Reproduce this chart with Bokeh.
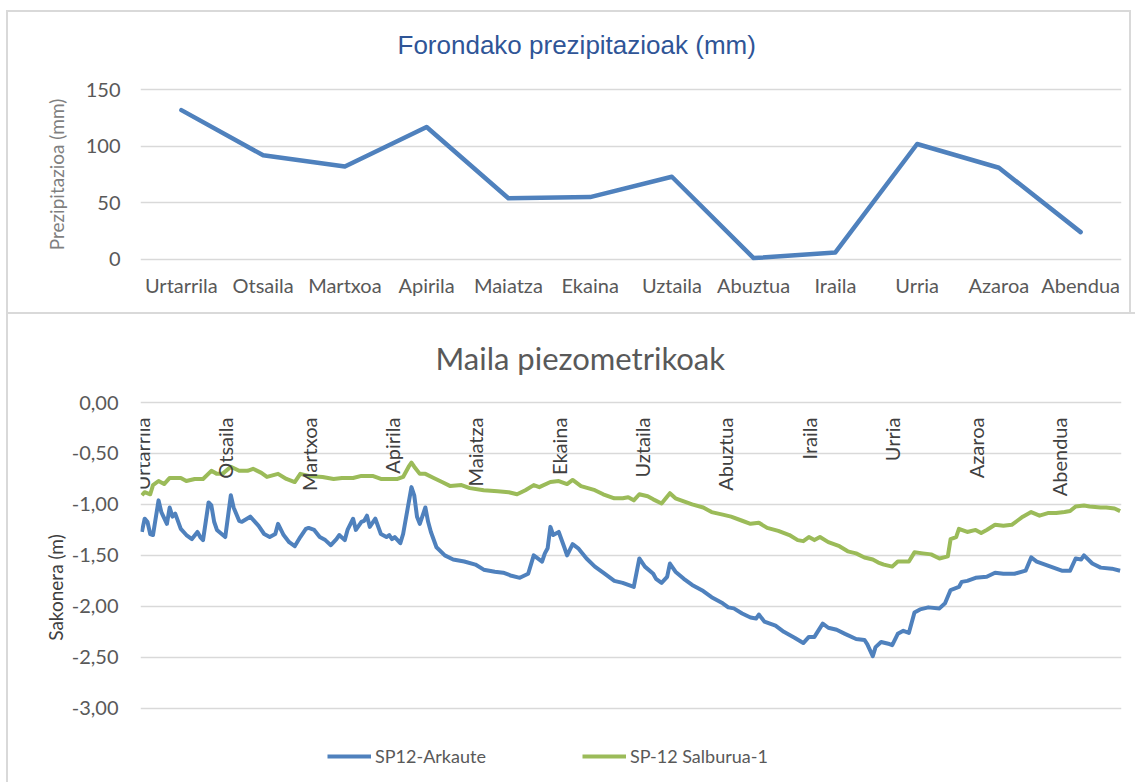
from math import pi
from bokeh.plotting import figure
from bokeh.layouts import column
from bokeh.models import (Range1d, FactorRange, FixedTicker, Title, Legend, LegendItem,
                          CustomJSTickFormatter)
from bokeh.core.properties import value
from bokeh.embed import file_html
from bokeh.resources import INLINE

# ---------------- data ----------------
months = ["Urtarrila", "Otsaila", "Martxoa", "Apirila", "Maiatza", "Ekaina",
          "Uztaila", "Abuztua", "Iraila", "Urria", "Azaroa", "Abendua"]
precip_mm = [132, 92, 82, 117, 54, 55, 73, 1, 6, 102, 81, 24]

precip_ticks = [0, 50, 100, 150]
depth_ticks = [0.0, -0.5, -1.0, -1.5, -2.0, -2.5, -3.0]
month_label_day = [0, 30, 60, 90, 120, 150, 180, 210, 240, 270, 300, 330]

arkaute_day = [0, 1, 2, 3, 4, 6, 7, 9, 10, 11, 12, 14, 16, 18, 20, 21, 22, 24, 25, 26,
               27, 30, 32, 33, 35, 36, 39, 42, 44, 46, 48, 49, 51, 53, 55, 57, 59, 60,
               62, 64, 66, 68, 70, 71, 73, 74, 76, 77, 79, 80, 81, 82, 84, 86, 88, 89,
               90, 91, 93, 94, 97, 98, 99, 100, 102, 103, 104, 106, 109, 112, 116, 120,
               123, 127, 130, 133, 136, 139, 141, 144, 145, 146, 147, 148, 150, 152, 153,
               155, 157, 160, 163, 166, 170, 173, 175, 177, 179, 181, 184, 185, 187, 189,
               190, 192, 195, 198, 202, 205, 209, 211, 213, 216, 219, 221, 222, 224, 228,
               231, 235, 238, 240, 242, 245, 247, 250, 253, 257, 260, 261, 263, 264, 266,
               269, 270, 272, 274, 276, 278, 280, 283, 287, 289, 291, 294, 295, 297, 300,
               304, 307, 310, 314, 318, 320, 322, 325, 328, 331, 334, 336, 338, 339, 342,
               345, 349, 352]
arkaute_m = [-1.27, -1.14, -1.17, -1.29, -1.30, -0.96, -1.075, -1.19, -1.03, -1.12, -1.09,
             -1.24, -1.30, -1.34, -1.27, -1.32, -1.35, -0.98, -1.01, -1.17, -1.25, -1.32,
             -0.91, -1.03, -1.16, -1.17, -1.12, -1.21, -1.29, -1.32, -1.29, -1.19, -1.30,
             -1.37, -1.41, -1.32, -1.24, -1.23, -1.25, -1.32, -1.35, -1.40, -1.34, -1.30,
             -1.35, -1.25, -1.14, -1.25, -1.17, -1.16, -1.11, -1.22, -1.14, -1.29, -1.32,
             -1.30, -1.34, -1.32, -1.38, -1.29, -0.83, -0.91, -1.12, -1.19, -1.03, -1.17,
             -1.27, -1.42, -1.50, -1.54, -1.56, -1.59, -1.64, -1.66, -1.67, -1.70, -1.72,
             -1.68, -1.50, -1.56, -1.48, -1.43, -1.22, -1.30, -1.27, -1.42, -1.50, -1.39,
             -1.43, -1.53, -1.61, -1.67, -1.75, -1.77, -1.79, -1.81, -1.53, -1.61, -1.68,
             -1.73, -1.77, -1.71, -1.58, -1.66, -1.73, -1.79, -1.85, -1.91, -1.97, -2.01,
             -2.02, -2.07, -2.11, -2.12, -2.08, -2.15, -2.19, -2.25, -2.31, -2.36, -2.30,
             -2.30, -2.17, -2.21, -2.23, -2.27, -2.32, -2.33, -2.37, -2.49, -2.40, -2.35,
             -2.37, -2.38, -2.27, -2.24, -2.26, -2.06, -2.03, -2.01, -2.02, -1.97, -1.84,
             -1.81, -1.76, -1.75, -1.72, -1.71, -1.67, -1.68, -1.68, -1.65, -1.52, -1.56,
             -1.59, -1.62, -1.65, -1.65, -1.53, -1.54, -1.50, -1.58, -1.62, -1.63, -1.65]

salburua_day = [0, 1, 3, 4, 6, 8, 10, 14, 16, 19, 22, 25, 27, 29, 32, 35, 38, 40, 43, 45,
                49, 52, 55, 57, 60, 65, 69, 72, 76, 79, 83, 86, 88, 92, 94, 96, 97, 98,
                100, 102, 105, 108, 111, 115, 118, 123, 128, 132, 135, 138, 141, 143, 147,
                150, 153, 155, 158, 163, 166, 170, 173, 175, 177, 179, 182, 184, 187, 190,
                192, 195, 198, 202, 205, 209, 212, 216, 219, 222, 225, 229, 233, 236, 238,
                240, 242, 244, 247, 251, 254, 257, 260, 263, 265, 267, 270, 272, 276, 278,
                281, 284, 287, 290, 291, 293, 294, 297, 300, 302, 304, 307, 310, 313, 315,
                317, 320, 323, 326, 329, 332, 334, 336, 339, 341, 345, 347, 350, 352]
salburua_m = [-0.91, -0.88, -0.90, -0.81, -0.77, -0.80, -0.74, -0.74, -0.77, -0.75, -0.75,
              -0.67, -0.70, -0.70, -0.63, -0.67, -0.67, -0.65, -0.69, -0.73, -0.70, -0.75,
              -0.78, -0.70, -0.72, -0.73, -0.75, -0.74, -0.74, -0.72, -0.72, -0.75, -0.75,
              -0.75, -0.73, -0.63, -0.59, -0.63, -0.70, -0.70, -0.74, -0.78, -0.82, -0.81,
              -0.84, -0.86, -0.87, -0.88, -0.90, -0.86, -0.81, -0.83, -0.78, -0.77, -0.80,
              -0.76, -0.82, -0.86, -0.90, -0.94, -0.94, -0.93, -0.96, -0.90, -0.92, -0.95,
              -0.99, -0.89, -0.94, -0.97, -1.00, -1.03, -1.075, -1.10, -1.12, -1.16, -1.19,
              -1.18, -1.23, -1.26, -1.30, -1.35, -1.36, -1.32, -1.35, -1.32, -1.37, -1.41,
              -1.46, -1.48, -1.52, -1.54, -1.57, -1.59, -1.61, -1.56, -1.56, -1.47, -1.48,
              -1.49, -1.53, -1.51, -1.34, -1.32, -1.24, -1.27, -1.25, -1.28, -1.25, -1.20,
              -1.21, -1.20, -1.16, -1.12, -1.075, -1.11, -1.085, -1.085, -1.075, -1.065,
              -1.02, -1.01, -1.02, -1.03, -1.03, -1.04, -1.065]

BLUE = "#4f81bd"
GREEN = "#9bbb59"
GRID = "#d9d9d9"
FONT = "Lato"

# panel frames drawn with layered inset shadows (canvas is transparent)
P1_BORDER = {"box-shadow": "inset 6px 0 0 #fff, inset 0 10px 0 #fff, inset -4px 0 0 #fff, "
                           "inset 8px 0 0 #d9d9d9, inset 0 12px 0 #d9d9d9, inset -6px 0 0 #d9d9d9",
             "background-color": "#ffffff"}
P2_BORDER = {"box-shadow": "inset 6px 0 0 #fff, inset 8px 0 0 #d9d9d9, inset 0 2px 0 #d9d9d9",
             "background-color": "#ffffff"}

# ---------------- top chart ----------------
p1 = figure(width=1135, height=312, x_range=FactorRange(*months, range_padding=0),
            y_range=Range1d(-2, 152), output_backend="svg", toolbar_location=None,
            min_border_left=140, min_border_right=11, min_border_top=87, min_border_bottom=51)
p1.styles = P1_BORDER
p1.border_fill_color = None
p1.background_fill_color = None
p1.outline_line_color = None
p1.line(months, precip_mm, line_color=BLUE, line_width=4.5, line_join="round", line_cap="round")

p1.add_layout(Title(text="Forondako prezipitazioak (mm)", align="left", offset=257,
                    standoff=55, text_font="Liberation Sans", text_font_size="26px",
                    text_font_style="normal", text_color="#2f5597"), "above")

p1.yaxis.ticker = FixedTicker(ticks=precip_ticks)
p1.yaxis.axis_label = "Prezipitazioa (mm)"
p1.yaxis.axis_label_text_font = FONT
p1.yaxis.axis_label_text_font_size = "19px"
p1.yaxis.axis_label_text_font_style = "normal"
p1.yaxis.axis_label_text_color = "#7f7f7f"
p1.yaxis.axis_label_standoff = 15
p1.yaxis.major_label_text_font = FONT
p1.yaxis.major_label_text_font_size = "20px"
p1.yaxis.major_label_text_color = "#595959"
p1.yaxis.major_label_standoff = 14
p1.yaxis.axis_line_color = None
p1.yaxis.major_tick_line_color = None
p1.yaxis.minor_tick_line_color = None
p1.xaxis.major_label_text_font = FONT
p1.xaxis.major_label_text_font_size = "20px"
p1.xaxis.major_label_text_color = "#595959"
p1.xaxis.major_label_standoff = 5
p1.xaxis.axis_line_color = None
p1.xaxis.major_tick_line_color = None
p1.xaxis.minor_tick_line_color = None
p1.xgrid.grid_line_color = None
p1.ygrid.grid_line_color = GRID
p1.ygrid.grid_line_width = 1.5

# ---------------- bottom chart ----------------
p2 = figure(width=1135, height=470, x_range=Range1d(-0.5, 352.5),
            y_range=Range1d(-3.65, 0.02), output_backend="svg", toolbar_location=None,
            min_border_left=137, min_border_right=14, min_border_top=88, min_border_bottom=8)
p2.styles = P2_BORDER
p2.border_fill_color = None
p2.background_fill_color = None
p2.outline_line_color = None
p2.xaxis.visible = False
p2.xgrid.grid_line_color = None
p2.ygrid.grid_line_color = GRID
p2.ygrid.grid_line_width = 1.5

p2.add_layout(Title(text="Maila piezometrikoak", align="left", offset=295,
                    standoff=47, text_font=FONT, text_font_size="31px",
                    text_font_style="normal", text_color="#595959"), "above")

p2.yaxis.ticker = FixedTicker(ticks=depth_ticks)
p2.yaxis.formatter = CustomJSTickFormatter(code="return tick.toFixed(2).replace('.', ',');")
p2.yaxis.axis_label = "Sakonera (m)"
p2.yaxis.axis_label_text_font = FONT
p2.yaxis.axis_label_text_font_size = "19px"
p2.yaxis.axis_label_text_font_style = "normal"
p2.yaxis.axis_label_text_color = "#404040"
p2.yaxis.axis_label_standoff = 2
p2.yaxis.major_label_text_font = FONT
p2.yaxis.major_label_text_font_size = "20px"
p2.yaxis.major_label_text_color = "#595959"
p2.yaxis.major_label_standoff = 16
p2.yaxis.axis_line_color = None
p2.yaxis.major_tick_line_color = None
p2.yaxis.minor_tick_line_color = None

r_ark = p2.line(arkaute_day, arkaute_m, line_color=BLUE, line_width=4, line_join="round")
r_sal = p2.line(salburua_day, salburua_m, line_color=GREEN, line_width=4, line_join="round")

p2.text(x=month_label_day, y=[0.0] * len(month_label_day), text=months, angle=pi / 2,
        text_align="right", text_baseline="middle", y_offset=15,
        text_font=value(FONT), text_font_size="20px", text_color="#404040")

legend = Legend(items=[LegendItem(label="SP12-Arkaute", renderers=[r_ark]),
                       LegendItem(label="SP-12 Salburua-1", renderers=[r_sal])],
                orientation="horizontal", location=(187, 7),
                glyph_width=44, glyph_height=20, label_height=20, label_standoff=4,
                spacing=96, padding=0, margin=0, border_line_color=None,
                background_fill_alpha=0, label_text_font=FONT,
                label_text_font_size="18px", label_text_color="#595959")
p2.add_layout(legend)

layout = column(p1, p2, spacing=0)
open("out.html", "w").write(file_html(layout, INLINE))
